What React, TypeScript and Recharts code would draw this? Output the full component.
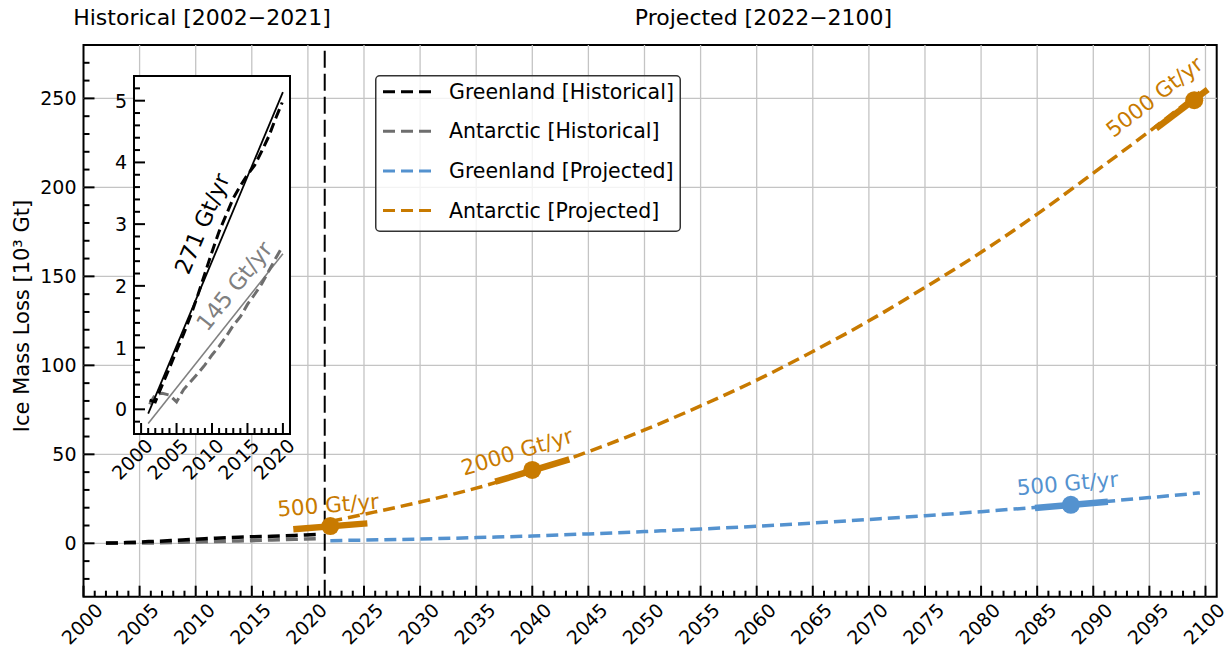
import React from 'react';
import { LineChart, Line, XAxis, YAxis, ReferenceLine, ReferenceDot, ReferenceArea, Legend } from 'recharts';

const FONT = '"DejaVu Sans", Verdana, sans-serif';
const ORANGE = '#c87a00';
const BLUE = '#5492cf';
const GRAY = '#6e6e6e';
const GRAY_FIT = '#808080';
const BLACK = '#000000';
const GRID = '#c4c4c4';

// ---------------- data ----------------
// historical cumulative loss (10^3 Gt), as plotted in main axes and in inset
const histYearsMain = [2002.0, 2002.8, 2003.8, 2004.8, 2005.8, 2006.8, 2007.8, 2008.8, 2009.8, 2010.8, 2011.8, 2012.8, 2013.8, 2014.8, 2015.8, 2016.8, 2017.8, 2018.8, 2019.8, 2020.7];
const histYearsInset = [2001.2, 2002, 2003, 2004, 2005, 2006, 2007, 2008, 2009, 2010, 2011, 2012, 2013, 2014, 2015, 2016, 2017, 2018, 2019, 2019.9];
const greenlandHist = [0.15, 0.12, 0.40, 0.67, 0.95, 1.22, 1.52, 1.85, 2.20, 2.55, 2.88, 3.15, 3.42, 3.62, 3.80, 3.95, 4.18, 4.42, 4.72, 4.97];
const antarcticHist = [0.08, 0.24, 0.26, 0.23, 0.12, 0.32, 0.45, 0.58, 0.72, 0.88, 1.02, 1.18, 1.36, 1.50, 1.70, 1.86, 2.03, 2.24, 2.45, 2.63];

// linear fits shown in the inset
const fitYears = [2001, 2020];
const greenlandFit = [-0.07, 5.14];
const antarcticFit = [-0.23, 2.52];
const fitLabels = ['271 Gt/yr', '145 Gt/yr'];
const fitLabelYears = [2008.57, 2013.13];
const fitLabelValues = [3.01, 2.0];

// projections
const projYears = [2022, 2025, 2030, 2035, 2040, 2045, 2050, 2055, 2060, 2065, 2070, 2075, 2080, 2085, 2090, 2095, 2099.5];
const greenlandProj = [1.5, 1.8, 2.4, 3.2, 4.1, 5.3, 6.6, 8.0, 9.6, 11.4, 13.4, 15.5, 17.8, 20.3, 22.9, 25.7, 28.3];
const antarcticProj = [12.3, 16.3, 23.2, 31.0, 40.5, 51.5, 63.7, 77.2, 91.7, 107.8, 125.0, 143.8, 163.5, 185.0, 208.0, 231.5, 253.5];

// rate markers (tangent segments)
const rateYears = [2022, 2040, 2088, 2099];
const rateValues = [9.7, 41.2, 21.6, 249];
const rateSegStartYears = [2018.7, 2036.7, 2084.8, 2095.6];
const rateSegEndYears = [2025.3, 2043.3, 2091.3, 2100.2];
const rateSegStartValues = [7.9, 34.6, 19.8, 233.1];
const rateSegEndValues = [11.2, 47.2, 23.4, 255];
const rateLabels = ['500 Gt/yr', '2000 Gt/yr', '500 Gt/yr', '5000 Gt/yr'];
const rateLabelYears = [2021.8, 2038.65, 2087.7, 2095.45];
const rateLabelValues = [21.5, 51.5, 33.7, 250.9];
const rateSeries = ['Antarctic', 'Antarctic', 'Greenland', 'Antarctic'];

// legend
const legendNames = ['Greenland [Historical]', 'Antarctic [Historical]', 'Greenland [Projected]', 'Antarctic [Projected]'];

// tick labels / axes
const eraTitles = ['Historical [2002\u22122021]', 'Projected [2022\u22122100]'];
const yLabel = 'Ice Mass Loss [10\u00b3 Gt]';
const splitYear = 2021.5;

// ---------------- style (not data) ----------------
const legendColors = [BLACK, GRAY, BLUE, ORANGE];
const rateAngles = [-4.5, -17, -5, -38];
const fitAngles = [-67, -51.5];
const fitColors = [BLACK, GRAY_FIT];

const zip = (xs: number[], ys: number[]) => xs.map((x, i) => ({ x, y: ys[i] }));
const range = (a: number, b: number, s: number) => {
  const out: number[] = [];
  for (let v = a; v <= b + 1e-9; v += s) out.push(Math.round(v * 1000) / 1000);
  return out;
};

const mainXTicks = range(2000, 2100, 1);
const mainYTicks = range(-20, 270, 10);
const gridX = range(2005, 2100, 5);
const gridY = range(0, 250, 50);
const insetXTicks = range(2000, 2020, 1);
const insetYTicks = range(-0.2, 5.2, 0.2);

const MainXTick = (props: any) => {
  const { x, y, payload } = props;
  const v = payload.value;
  const major = Math.abs(v % 5) < 1e-6;
  const lx = x - 1.5;
  const ly = y + 27;
  return (
    <g>
      <line x1={x} x2={x} y1={y} y2={y - (major ? 11 : 6)} stroke="#000" strokeWidth={2} />
      {major && (
        <text x={lx} y={ly} textAnchor="middle" dominantBaseline="central" fontSize={19} fontFamily={FONT} fill="#000" transform={`rotate(-45 ${lx} ${ly})`}>
          {v}
        </text>
      )}
    </g>
  );
};

const MainYTick = (props: any) => {
  const { x, y, payload } = props;
  const v = payload.value;
  const major = Math.abs(v % 50) < 1e-6;
  return (
    <g>
      <line x1={x} x2={x + (major ? 11 : 6)} y1={y} y2={y} stroke="#000" strokeWidth={2} />
      {major && (
        <text x={x - 7} y={y} textAnchor="end" dominantBaseline="central" fontSize={19} fontFamily={FONT} fill="#000">
          {v}
        </text>
      )}
    </g>
  );
};

const InsetXTick = (props: any) => {
  const { x, y, payload } = props;
  const v = payload.value;
  const major = Math.abs(v % 5) < 1e-6;
  const lx = x - 9;
  const ly = y + 25;
  return (
    <g>
      <line x1={x} x2={x} y1={y} y2={y - (major ? 11 : 6)} stroke="#000" strokeWidth={2} />
      {major && (
        <text x={lx} y={ly} textAnchor="middle" dominantBaseline="central" fontSize={19} fontFamily={FONT} fill="#000" transform={`rotate(-45 ${lx} ${ly})`}>
          {v}
        </text>
      )}
    </g>
  );
};

const InsetYTick = (props: any) => {
  const { x, y, payload } = props;
  const v = payload.value;
  const major = Math.abs(v - Math.round(v)) < 1e-6;
  return (
    <g>
      <line x1={x} x2={x + (major ? 11 : 6)} y1={y} y2={y} stroke="#000" strokeWidth={2} />
      {major && (
        <text x={x - 7} y={y} textAnchor="end" dominantBaseline="central" fontSize={19} fontFamily={FONT} fill="#000">
          {Math.round(v)}
        </text>
      )}
    </g>
  );
};

const LegendBox = () => (
  <svg width={306} height={157} style={{ display: 'block' }}>
    <rect x={0.75} y={0.75} width={304.5} height={155.5} rx={4} ry={4} fill="#fff" fillOpacity={0.8} stroke="#333" strokeWidth={1.5} />
    {legendNames.map((n, i) => {
      const cy = 16.7 + i * 39.6;
      return (
        <g key={n}>
          <line x1={8} x2={56} y1={cy} y2={cy} stroke={legendColors[i]} strokeWidth={3} strokeDasharray="12 6" />
          <text x={74} y={cy} dominantBaseline="central" fontSize={20.5} fontFamily={FONT} fill="#000">
            {n}
          </text>
        </g>
      );
    })}
  </svg>
);

const textShape = (label: string, angle: number, color: string, size: number) => (p: any) => (
  <text x={p.cx} y={p.cy} textAnchor="middle" dominantBaseline="central" fontSize={size} fontFamily={FONT} fill={color} transform={`rotate(${angle} ${p.cx} ${p.cy})`}>
    {label}
  </text>
);

const colorOf = (s: string) => (s === 'Greenland' ? BLUE : ORANGE);

export default function App() {
  return (
    <div style={{ position: 'absolute', left: 0, top: 0, width: 1231, height: 648, background: '#fff' }}>
      <LineChart width={1231} height={648} margin={{ top: 45, right: 14.3, bottom: 0, left: 0 }}>
        <XAxis type="number" dataKey="x" domain={[2000, 2101]} ticks={mainXTicks} interval={0} tick={MainXTick} tickSize={0} tickMargin={0} tickLine={false} axisLine={false} height={51.3} allowDataOverflow />
        <YAxis type="number" domain={[-30, 280]} ticks={mainYTicks} interval={0} tick={MainYTick} tickSize={0} tickMargin={0} tickLine={false} axisLine={false} width={83.5} allowDataOverflow />
        {gridX.map((v) => (
          <ReferenceLine key={'gx' + v} x={v} stroke={GRID} strokeWidth={1.3} />
        ))}
        {gridY.map((v) => (
          <ReferenceLine key={'gy' + v} y={v} stroke={GRID} strokeWidth={1.3} />
        ))}
        <ReferenceLine x={splitYear} stroke="#000" strokeWidth={2} strokeDasharray="17 6" />
        <Line data={zip(histYearsMain, antarcticHist)} dataKey="y" stroke={GRAY} strokeWidth={3.5} strokeDasharray="12 6" dot={false} activeDot={false} isAnimationActive={false} legendType="none" />
        <Line data={zip(histYearsMain, greenlandHist)} dataKey="y" stroke={BLACK} strokeWidth={3.5} strokeDasharray="12 6" dot={false} activeDot={false} isAnimationActive={false} legendType="none" />
        <Line data={zip(projYears, greenlandProj)} dataKey="y" type="monotone" stroke={BLUE} strokeWidth={3.5} strokeDasharray="12 6" dot={false} activeDot={false} isAnimationActive={false} legendType="none" />
        <Line data={zip(projYears, antarcticProj)} dataKey="y" type="monotone" stroke={ORANGE} strokeWidth={3.5} strokeDasharray="12 6" dot={false} activeDot={false} isAnimationActive={false} legendType="none" />
        {rateYears.map((yr, i) => (
          <Line key={'seg' + i} data={zip([rateSegStartYears[i], rateSegEndYears[i]], [rateSegStartValues[i], rateSegEndValues[i]])} dataKey="y" stroke={colorOf(rateSeries[i])} strokeWidth={6.5} dot={false} activeDot={false} isAnimationActive={false} legendType="none" />
        ))}
        {rateYears.map((yr, i) => (
          <ReferenceDot key={'dot' + i} x={yr} y={rateValues[i]} r={9} fill={colorOf(rateSeries[i])} stroke="none" />
        ))}
        {rateLabels.map((l, i) => (
          <ReferenceDot key={'lab' + i} x={rateLabelYears[i]} y={rateLabelValues[i]} r={1} shape={textShape(l, rateAngles[i], colorOf(rateSeries[i]), 21.5)} />
        ))}
        <ReferenceArea x1={2000} x2={2101} y1={-30} y2={280} fill="none" fillOpacity={0} stroke="#000" strokeWidth={2} />
        <Legend content={LegendBox} layout="vertical" align="center" verticalAlign="middle" wrapperStyle={{ position: 'absolute', left: 375, top: 75, width: 306, height: 157 }} />
      </LineChart>

      <div style={{ position: 'absolute', left: 94, top: 66 }}>
        <LineChart width={210} height={420} margin={{ top: 10, right: 14, bottom: 0, left: 0 }}>
          <XAxis type="number" dataKey="x" domain={[1999, 2021]} ticks={insetXTicks} interval={0} tick={InsetXTick} tickSize={0} tickMargin={0} tickLine={false} axisLine={false} height={52} allowDataOverflow />
          <YAxis type="number" domain={[-0.4, 5.4]} ticks={insetYTicks} interval={0} tick={InsetYTick} tickSize={0} tickMargin={0} tickLine={false} axisLine={false} width={40} allowDataOverflow />
          <ReferenceArea x1={1999} x2={2021} y1={-0.4} y2={5.4} fill="#fff" fillOpacity={1} stroke="none" />
          <Line data={zip(fitYears, antarcticFit)} dataKey="y" stroke={GRAY_FIT} strokeWidth={1.6} dot={false} activeDot={false} isAnimationActive={false} legendType="none" />
          <Line data={zip(histYearsInset, antarcticHist)} dataKey="y" stroke={GRAY} strokeWidth={3} strokeDasharray="10 5" dot={false} activeDot={false} isAnimationActive={false} legendType="none" />
          <Line data={zip(fitYears, greenlandFit)} dataKey="y" stroke={BLACK} strokeWidth={1.8} dot={false} activeDot={false} isAnimationActive={false} legendType="none" />
          <Line data={zip(histYearsInset, greenlandHist)} dataKey="y" stroke={BLACK} strokeWidth={3} strokeDasharray="10 5" dot={false} activeDot={false} isAnimationActive={false} legendType="none" />
          {fitLabels.map((l, i) => (
            <ReferenceDot key={'fl' + i} x={fitLabelYears[i]} y={fitLabelValues[i]} r={1} shape={textShape(l, fitAngles[i], fitColors[i], 22.5)} />
          ))}
          <ReferenceArea x1={1999} x2={2021} y1={-0.4} y2={5.4} fill="none" fillOpacity={0} stroke="#000" strokeWidth={2} />
        </LineChart>
      </div>

      <svg width={1231} height={648} style={{ position: 'absolute', left: 0, top: 0, pointerEvents: 'none' }}>
        <text x={202} y={25} textAnchor="middle" fontSize={22} fontFamily={FONT} fill="#000">{eraTitles[0]}</text>
        <text x={763.5} y={25} textAnchor="middle" fontSize={22} fontFamily={FONT} fill="#000">{eraTitles[1]}</text>
        <text x={22} y={316} textAnchor="middle" dominantBaseline="central" fontSize={21} fontFamily={FONT} fill="#000" transform="rotate(-90 22 316)">{yLabel}</text>
      </svg>
    </div>
  );
}
